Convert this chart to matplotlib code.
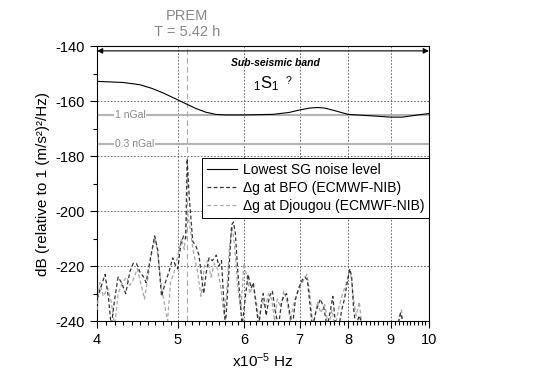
import numpy as np
import matplotlib
matplotlib.use('Agg')
import matplotlib.pyplot as plt
from matplotlib.ticker import FixedLocator, FixedFormatter, NullFormatter

plt.rcParams['font.family'] = ['Liberation Sans', 'DejaVu Sans']
plt.rcParams['axes.unicode_minus'] = False
plt.rcParams['mathtext.fontset'] = 'custom'
plt.rcParams['mathtext.rm'] = 'Liberation Sans'
plt.rcParams['mathtext.it'] = 'Liberation Sans:italic'
plt.rcParams['mathtext.bf'] = 'Liberation Sans:bold'

# lowest SG noise level (x10^-5 Hz, dB)
noise_f = [4.0, 4.3, 4.5, 4.65, 4.8, 4.95, 5.1, 5.25, 5.4, 5.55, 5.7, 6.0, 6.5,
           6.8, 7.0, 7.2, 7.35, 7.5, 7.7, 8.0, 8.5, 9.0, 9.3, 9.7, 10.0]
noise_db = [-152.8, -153.2, -154.0, -155.3, -157.0, -158.9, -160.8, -162.6, -164.0,
            -164.8, -165.0, -165.0, -164.8, -164.1, -163.2, -162.5, -162.3, -162.5,
            -163.4, -164.8, -165.3, -165.8, -165.8, -165.0, -164.5]

# gravity residuals at BFO (ECMWF-NIB)
bfo_f = [4.00, 4.04, 4.09, 4.13, 4.16, 4.20, 4.24, 4.28, 4.33, 4.38, 4.42, 4.46,
         4.50, 4.55, 4.58, 4.63, 4.69, 4.73, 4.78, 4.83, 4.88, 4.93, 4.97, 5.00,
         5.04, 5.08, 5.11, 5.13, 5.16, 5.21, 5.26, 5.30, 5.37, 5.41, 5.45, 5.50,
         5.56, 5.60, 5.64, 5.67, 5.70, 5.75, 5.80, 5.83, 5.86, 5.90, 5.93, 5.97,
         6.02, 6.07, 6.12, 6.16, 6.21, 6.25, 6.30, 6.33, 6.38, 6.44, 6.49, 6.54,
         6.60, 6.66, 6.70, 6.75, 6.80, 6.86, 6.92, 6.98, 7.05, 7.10, 7.15, 7.20,
         7.25, 7.33, 7.41, 7.48, 7.55, 7.62, 7.67, 7.72, 7.80, 7.86, 7.92, 7.98,
         8.04, 8.08, 8.12, 8.17, 8.25, 8.33, 8.50, 9.00, 9.20, 9.25, 9.30, 9.40, 10.0]
bfo_db = [-232, -228, -223, -232, -242, -232, -224, -226, -230, -222, -219, -219,
          -222, -224, -226, -218, -209, -214, -231, -226, -222, -217, -220, -221,
          -212, -209, -210, -181, -195, -211, -213, -216, -230, -222, -217, -218,
          -216, -220, -218, -230, -242, -225, -205, -204, -208, -222, -230, -242,
          -232, -223, -228, -226, -235, -242, -233, -230, -238, -231, -229, -236,
          -242, -233, -231, -230, -236, -242, -232, -228, -225, -224, -225, -234,
          -242, -236, -232, -235, -242, -236, -231, -240, -242, -236, -232, -226,
          -221, -224, -235, -242, -238, -242, -245, -245, -240, -237, -240, -245, -245]

# gravity residuals at Djougou (ECMWF-NIB)
djg_f = [4.00, 4.03, 4.07, 4.12, 4.16, 4.20, 4.24, 4.29, 4.34, 4.38, 4.42, 4.47,
         4.52, 4.56, 4.61, 4.66, 4.70, 4.74, 4.78, 4.82, 4.86, 4.90, 4.95, 5.00,
         5.05, 5.09, 5.13, 5.17, 5.22, 5.28, 5.33, 5.38, 5.43, 5.48, 5.53, 5.58,
         5.63, 5.68, 5.72, 5.77, 5.81, 5.85, 5.90, 5.95, 6.00, 6.05, 6.10, 6.15,
         6.20, 6.26, 6.31, 6.37, 6.42, 6.48, 6.53, 6.58, 6.64, 6.70, 6.76, 6.82,
         6.88, 6.95, 7.02, 7.08, 7.14, 7.20, 7.26, 7.35, 7.42, 7.50, 7.58, 7.65,
         7.72, 7.80, 7.88, 7.95, 8.02, 8.07, 8.12, 8.18, 8.25, 8.30, 8.40, 9.15,
         9.22, 9.27, 9.32, 10.0]
djg_db = [-236, -226, -231, -228, -233, -242, -230, -226, -224, -227, -225, -221,
          -227, -232, -223, -214, -210, -218, -228, -234, -240, -226, -222, -216,
          -210, -214, -200, -206, -215, -222, -231, -220, -218, -224, -219, -221,
          -228, -238, -230, -212, -206, -213, -228, -236, -219, -224, -230, -227,
          -232, -240, -233, -235, -230, -232, -240, -232, -235, -229, -233, -240,
          -234, -230, -227, -225, -223, -230, -242, -233, -237, -234, -242, -236,
          -242, -235, -230, -227, -222, -224, -232, -238, -233, -240, -245, -245,
          -238, -236, -242, -245]

ngal_levels = [-165.0, -175.5]
ngal_labels = ['1 nGal', '0.3 nGal']
prem_f = 1.0 / (5.42 * 3600) * 1e5
x_ticks = [4, 5, 6, 7, 8, 9, 10]

fig = plt.figure(figsize=(5.45, 3.85), dpi=100)
ax = fig.add_axes([0.178, 0.166, 0.609, 0.714])
ax.set_xscale('log')

# grid
for xv in x_ticks[1:-1]:
    ax.axvline(xv, color='#555555', lw=0.6, ls=(0, (2, 2)), zorder=1)
for yv in [-160, -180, -200, -220]:
    ax.axhline(yv, color='#555555', lw=0.6, ls=(0, (2, 2)), zorder=1)

# PREM 1S1 frequency
ax.axvline(prem_f, color='#aaaaaa', lw=0.8, ls=(0, (5, 3)), zorder=1)

# nGal reference levels
for lev, lab in zip(ngal_levels, ngal_labels):
    ax.axhline(lev, color='#b4b4b4', lw=1.5, zorder=2)
    ax.text(4.2, lev, lab, color='#888888', fontsize=7.5, va='center', ha='left',
            bbox=dict(facecolor='white', edgecolor='none', pad=0.5), zorder=3)

l1, = ax.plot(noise_f, noise_db, color='black', lw=0.8, zorder=5)
l3, = ax.plot(djg_f, djg_db, color='#a8a8a8', lw=0.9, ls=(0, (3, 2)), zorder=4)
l2, = ax.plot(bfo_f, bfo_db, color='#333333', lw=0.9, ls=(0, (3, 2)), zorder=4)

# sub-seismic band arrow
ax.annotate('', xy=(4.0, -141.7), xytext=(10.0, -141.7),
            arrowprops=dict(arrowstyle='<|-|>', color='black', lw=0.8,
                            mutation_scale=8, shrinkA=0, shrinkB=0))
ax.text(6.55, -146.2, 'Sub-seismic band', fontsize=7.5, fontweight='bold',
        fontstyle='italic', ha='center', va='center')
ax.text(6.38, -153.5, '$_1$S$_1$', fontsize=12, ha='center', va='center')
ax.text(6.78, -152.5, '?', fontsize=7.5, ha='center', va='center')

# PREM annotation above the axes
ax.text(prem_f, 1.025, 'PREM\nT = 5.42 h', transform=ax.get_xaxis_transform(),
        color='#888888', fontsize=10.5, ha='center', va='bottom', linespacing=1.25)

ax.set_xlim(4, 10)
ax.set_ylim(-240, -140)
ax.xaxis.set_major_locator(FixedLocator(x_ticks))
ax.xaxis.set_major_formatter(FixedFormatter([str(v) for v in x_ticks]))
ax.xaxis.set_minor_locator(FixedLocator(np.arange(4.1, 10.0, 0.1)))
ax.xaxis.set_minor_formatter(NullFormatter())
ax.set_yticks(np.arange(-240, -139, 20))
ax.set_yticks(np.arange(-230, -140, 20), minor=True)
ax.tick_params(which='major', direction='out', length=5, width=0.8, labelsize=10.5)
ax.tick_params(which='minor', direction='out', length=3, width=0.8)

ax.set_xlabel('x10$^{-5}$ Hz', fontsize=11, labelpad=3)
ax.set_ylabel('dB (relative to 1 (m/s²)²/Hz)', fontsize=11)

leg = ax.legend([l1, l2, l3],
                ['Lowest SG noise level', 'Δg at BFO (ECMWF-NIB)',
                 'Δg at Djougou (ECMWF-NIB)'],
                loc='upper left', bbox_to_anchor=(0.316, 0.593), fontsize=10,
                frameon=True, fancybox=False, framealpha=1, edgecolor='black',
                handlelength=2.2, borderpad=0.35, labelspacing=0.3,
                handletextpad=0.4, borderaxespad=0)
leg.get_frame().set_linewidth(0.7)
leg.set_zorder(6)

fig.savefig('out.png', dpi=100)
